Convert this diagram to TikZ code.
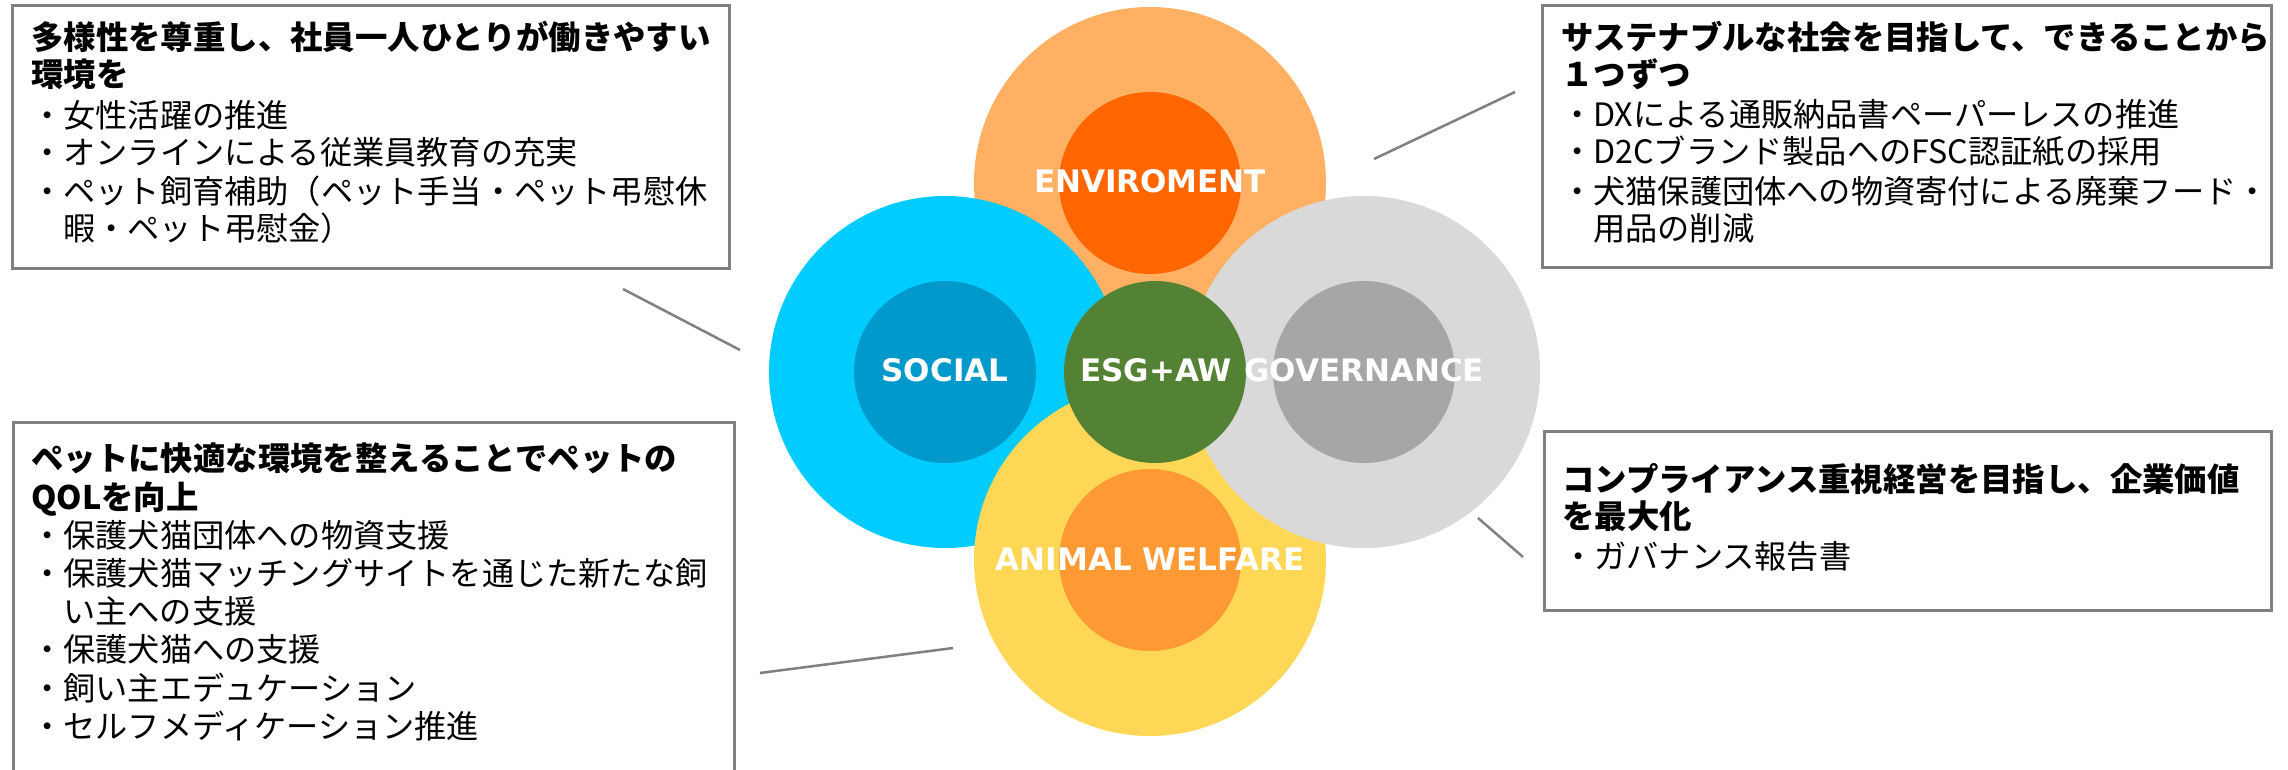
\documentclass[tikz,border=0pt]{standalone}
\usepackage{fontspec}
\newfontfamily\jp{Noto Sans CJK JP}
\newfontfamily\labfont{DejaVu Sans}
\definecolor{envout}{HTML}{FFB062}
\definecolor{envin}{HTML}{FF6600}
\definecolor{socout}{HTML}{00CCFF}
\definecolor{socin}{HTML}{0099CC}
\definecolor{govout}{HTML}{D9D9D9}
\definecolor{govin}{HTML}{A6A6A6}
\definecolor{awout}{HTML}{FFD757}
\definecolor{awin}{HTML}{FF9933}
\definecolor{esgc}{HTML}{548235}
\definecolor{framegray}{HTML}{808080}
\tikzset{
  disc/.style={circle, inner sep=0pt, minimum size=352pt, draw=none},
  core/.style={circle, inner sep=0pt, minimum size=182pt, draw=none},
  lbl/.style={text=white, inner sep=0pt, font=\labfont\bfseries\fontsize{31}{36}\selectfont},
  frame/.style={draw=framegray, line width=2.5pt, anchor=north west, inner sep=0pt},
  ttl/.style={anchor=base west, inner sep=0pt, font=\jp\bfseries\fontsize{32.4}{37}\selectfont},
  txt/.style={anchor=base west, inner sep=0pt, font=\jp\fontsize{32.2}{37}\selectfont},
  link/.style={draw=framegray, line width=2.5pt}
}
\begin{document}
\begin{tikzpicture}[x=1pt,y=-1pt]
\useasboundingbox (0,0) rectangle (2288,769);
\fill[white] (0,0) rectangle (2288,769);
% outer discs
\node[disc, fill=envout] (envo) at (1150,183) {};
\node[disc, fill=socout] (soco) at (945,372) {};
\node[disc, fill=awout] (awo) at (1150,560) {};
\node[disc, fill=govout] (govo) at (1364,372) {};
% inner discs
\node[core, fill=envin] (envi) at (1150,183) {};
\node[core, fill=socin] (soci) at (945,372) {};
\node[core, fill=awin] (awi) at (1150,560) {};
\node[core, fill=govin] (govi) at (1364,372) {};
\node[core, fill=esgc] (esg) at (1155,372) {};
% labels
\node[lbl] (envl) at (1150,181) {ENVIROMENT};
\node[lbl] (socl) at (945,370) {SOCIAL};
\node[lbl] (govl) at (1364,370) {GOVERNANCE};
\node[lbl] (awl) at (1150,559) {ANIMAL WELFARE};
\node[lbl] (esgl) at (1156,370) {ESG+AW};
% boxes
\node[frame, minimum width=717pt, minimum height=263pt] (boxTL) at (11,4) {};
\node[frame, minimum width=729pt, minimum height=262pt] (boxTR) at (1541,4) {};
\node[frame, minimum width=721pt, minimum height=380pt] (boxBL) at (12,421) {};
\node[frame, minimum width=727pt, minimum height=179pt] (boxBR) at (1543,430) {};
% top-left text
\node[ttl] (tl1) at (31,49) {多様性を尊重し、社員一人ひとりが働きやすい};
\node[ttl] (tl2) at (31,86) {環境を};
\node[txt] (tl3) at (31,127) {・女性活躍の推進};
\node[txt] (tl4) at (31,164) {・オンラインによる従業員教育の充実};
\node[txt] (tl5) at (31,203) {・ペット飼育補助（ペット手当・ペット弔慰休};
\node[txt] (tl6) at (63,240) {暇・ペット弔慰金）};
% top-right text
\node[ttl] (tr1) at (1561,49) {サステナブルな社会を目指して、できることから};
\node[ttl] (tr2) at (1561,86) {１つずつ};
\node[txt] (tr3) at (1561,126) {・DXによる通販納品書ペーパーレスの推進};
\node[txt] (tr4) at (1561,163) {・D2Cブランド製品へのFSC認証紙の採用};
\node[txt] (tr5) at (1561,203) {・犬猫保護団体への物資寄付による廃棄フード・};
\node[txt] (tr6) at (1593,240) {用品の削減};
% bottom-left text
\node[ttl] (bl1) at (31,470) {ペットに快適な環境を整えることでペットの};
\node[ttl] (bl2) at (31,509) {QOLを向上};
\node[txt] (bl3) at (31,547) {・保護犬猫団体への物資支援};
\node[txt] (bl4) at (31,585) {・保護犬猫マッチングサイトを通じた新たな飼};
\node[txt] (bl5) at (63,623) {い主への支援};
\node[txt] (bl6) at (31,661) {・保護犬猫への支援};
\node[txt] (bl7) at (31,700) {・飼い主エデュケーション};
\node[txt] (bl8) at (31,738) {・セルフメディケーション推進};
% bottom-right text
\node[ttl] (br1) at (1562,491) {コンプライアンス重視経営を目指し、企業価値};
\node[ttl] (br2) at (1562,528) {を最大化};
\node[txt] (br3) at (1562,568) {・ガバナンス報告書};
% connectors
\coordinate (tlA) at (623,289); \coordinate (tlB) at (740,350);
\coordinate (trA) at (1374,159); \coordinate (trB) at (1515,92);
\coordinate (blA) at (760,673); \coordinate (blB) at (953,648);
\coordinate (brA) at (1478,518); \coordinate (brB) at (1523,557);
\draw[link] (tlA) -- (tlB);
\draw[link] (trA) -- (trB);
\draw[link] (blA) -- (blB);
\draw[link] (brA) -- (brB);
\end{tikzpicture}
\end{document}
